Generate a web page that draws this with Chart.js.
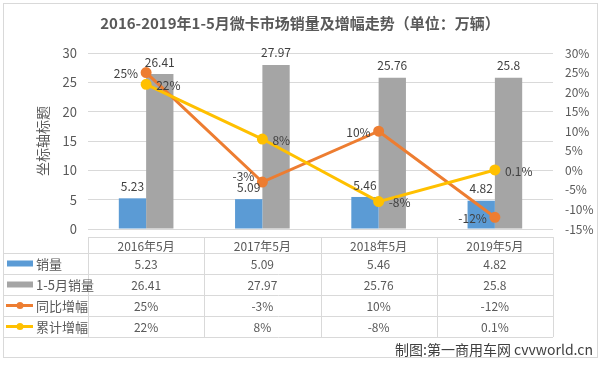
<!DOCTYPE html>
<html>
<head>
<meta charset="utf-8">
<script src="https://cdn.jsdelivr.net/npm/chart.js@4.4.1/dist/chart.umd.min.js"></script>
<style>
  html, body { margin: 0; padding: 0; background: #fff; }
  #wrap { width: 603px; height: 366px; position: relative; }
</style>
</head>
<body>
<div id="wrap"><canvas id="chart" width="603" height="366"></canvas></div>
<script>
const categories = ["2016年5月", "2017年5月", "2018年5月", "2019年5月"];
const monthSales = [5.23, 5.09, 5.46, 4.82];
const ytdSales = [26.41, 27.97, 25.76, 25.8];
const yoyGrowth = [25, -3, 10, -12];
const ytdGrowth = [22, 8, -8, 0.1];
const leftTicks = [0, 5, 10, 15, 20, 25, 30];
const rightTicks = [-15, -10, -5, 0, 5, 10, 15, 20, 25, 30];

const FONT = '"Noto Sans CJK SC", "Noto Sans", sans-serif';
const TEXT = "#595959";

function pct(v) { return v + "%"; }

// labels, bar values and the data table are drawn here
const extras = {
  id: "extras",
  afterDatasetsDraw(chart) {
    const ctx = chart.ctx;
    ctx.save();
    ctx.font = "12px " + FONT;
    ctx.fillStyle = "#404040";
    ctx.textBaseline = "middle";

    // bar value labels
    [0, 1].forEach(i => {
      const meta = chart.getDatasetMeta(i);
      const vals = chart.data.datasets[i].data;
      meta.data.forEach((el, j) => {
        ctx.textAlign = "center";
        ctx.fillText(String(vals[j]), el.x, el.y - 12);
      });
    });

    // line labels, side per point
    const sides = [
      ["left", "left", "left", "left"],
      ["right", "right", "right", "right"]
    ];
    [2, 3].forEach((i, k) => {
      const meta = chart.getDatasetMeta(i);
      const vals = chart.data.datasets[i].data;
      meta.data.forEach((el, j) => {
        const s = sides[k][j];
        ctx.textAlign = s === "left" ? "right" : "left";
        const dx = s === "left" ? -8 : 10;
        const dy = (i === 2 && j === 1) ? -6 : 1;
        ctx.fillText(pct(vals[j]), el.x + dx, el.y + dy);
      });
    });
    ctx.restore();
  },
  afterDraw(chart) {
    const ctx = chart.ctx;
    const x = chart.scales.x;
    const area = chart.chartArea;
    const step = (area.right - area.left) / categories.length;
    const rows = [237, 253, 274, 295, 316, 337];
    const left = 4;
    ctx.save();
    ctx.strokeStyle = "#d9d9d9";
    ctx.lineWidth = 1;

    // horizontal lines
    ctx.beginPath();
    ctx.moveTo(area.left, rows[0] + 0.5);
    ctx.lineTo(area.right, rows[0] + 0.5);
    for (let r = 1; r < rows.length; r++) {
      ctx.moveTo(left, rows[r] + 0.5);
      ctx.lineTo(area.right, rows[r] + 0.5);
    }
    // vertical lines
    for (let c = 0; c <= categories.length; c++) {
      const xx = Math.round(area.left + c * step) + 0.5;
      ctx.moveTo(xx, rows[0]);
      ctx.lineTo(xx, rows[rows.length - 1]);
    }
    ctx.stroke();

    ctx.font = "12px " + FONT;
    ctx.fillStyle = TEXT;
    ctx.textAlign = "center";
    ctx.textBaseline = "middle";
    const rowVals = [
      monthSales.map(String),
      ytdSales.map(String),
      yoyGrowth.map(pct),
      ytdGrowth.map(pct)
    ];
    categories.forEach((c, j) => {
      const cx = x.getPixelForValue(j);
      ctx.fillText(c, cx, (rows[0] + rows[1]) / 2 + 1);
      rowVals.forEach((vals, r) => {
        ctx.fillText(vals[j], cx, (rows[r + 1] + rows[r + 2]) / 2 + 1);
      });
    });

    // legend keys
    const ds = chart.data.datasets;
    ctx.font = "13px " + FONT;
    ctx.textAlign = "left";
    ds.forEach((d, r) => {
      const cy = (rows[r + 1] + rows[r + 2]) / 2;
      if (d.type === "line") {
        ctx.strokeStyle = d.borderColor;
        ctx.lineWidth = 3;
        ctx.beginPath();
        ctx.moveTo(6, cy);
        ctx.lineTo(33, cy);
        ctx.stroke();
        ctx.fillStyle = d.borderColor;
        ctx.beginPath();
        ctx.arc(20, cy, 3.5, 0, Math.PI * 2);
        ctx.fill();
      } else {
        ctx.fillStyle = d.backgroundColor;
        ctx.fillRect(7, cy - 3, 26, 6);
      }
      ctx.fillStyle = TEXT;
      ctx.fillText(d.label, 36, cy + 1);
    });

    // title
    ctx.font = "bold 15px " + FONT;
    ctx.fillStyle = TEXT;
    ctx.textAlign = "center";
    ctx.fillText("2016-2019年1-5月微卡市场销量及增幅走势（单位：万辆）", 300, 23);

    // axis title
    ctx.save();
    ctx.translate(43, 141);
    ctx.rotate(-Math.PI / 2);
    ctx.font = "14px " + FONT;
    ctx.fillText("坐标轴标题", 0, 0);
    ctx.restore();

    // credit
    ctx.font = "14px " + FONT;
    ctx.fillStyle = "#404040";
    ctx.textAlign = "right";
    ctx.fillText("制图:第一商用车网 cvvworld.cn", 593, 350);

    // chart frame
    ctx.strokeStyle = "#d9d9d9";
    ctx.lineWidth = 1;
    ctx.strokeRect(3.5, 3.5, 594, 354);
    ctx.restore();
  }
};

new Chart(document.getElementById("chart"), {
  data: {
    labels: categories,
    datasets: [
      { type: "bar", label: "销量", data: monthSales, backgroundColor: "#5b9bd5", yAxisID: "y", order: 2 },
      { type: "bar", label: "1-5月销量", data: ytdSales, backgroundColor: "#a5a5a5", yAxisID: "y", order: 2 },
      { type: "line", label: "同比增幅", data: yoyGrowth, borderColor: "#ed7d31", backgroundColor: "#ed7d31",
        borderWidth: 3, pointRadius: 4, pointHoverRadius: 4, yAxisID: "y1", order: 1 },
      { type: "line", label: "累计增幅", data: ytdGrowth, borderColor: "#ffc000", backgroundColor: "#ffc000",
        borderWidth: 3, pointRadius: 4, pointHoverRadius: 4, yAxisID: "y1", order: 0 }
    ]
  },
  options: {
    responsive: false,
    animation: false,
    layout: { padding: { top: 53, bottom: 137, left: 0, right: 0 } },
    datasets: { bar: { categoryPercentage: 0.47, barPercentage: 1 } },
    plugins: { legend: { display: false }, tooltip: { enabled: false } },
    scales: {
      x: { display: false, offset: true },
      y: {
        position: "left", min: 0, max: 30,
        afterBuildTicks: s => { s.ticks = leftTicks.map(v => ({ value: v })); },
        afterFit: s => { s.width = 88; },
        border: { display: false },
        grid: { color: "#d9d9d9", drawTicks: false },
        ticks: { color: TEXT, font: { family: FONT, size: 13 }, padding: 11 }
      },
      y1: {
        position: "right", min: -15, max: 30,
        afterBuildTicks: s => { s.ticks = rightTicks.map(v => ({ value: v })); },
        afterFit: s => { s.width = 50; },
        border: { display: false },
        grid: { display: false, drawTicks: false },
        ticks: { color: TEXT, font: { family: FONT, size: 12 }, padding: 12, callback: v => v + "%" }
      }
    }
  },
  plugins: [extras]
});
</script>
</body>
</html>
